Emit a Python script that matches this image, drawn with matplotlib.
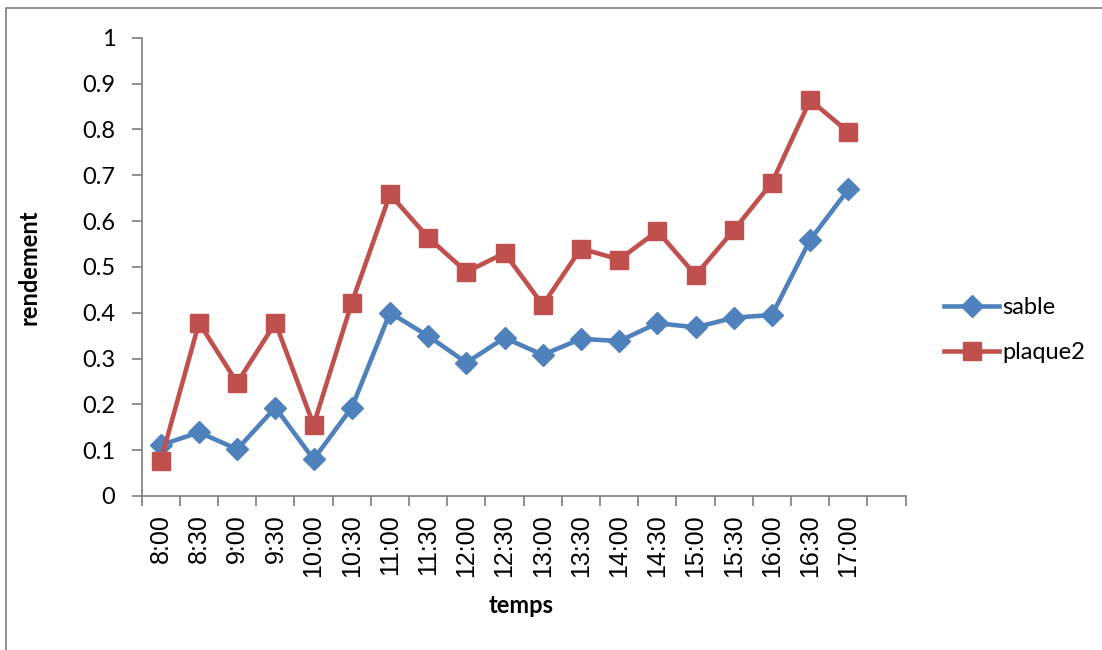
import matplotlib.pyplot as plt
from matplotlib.lines import Line2D

# data
temps = ["8:00", "8:30", "9:00", "9:30", "10:00", "10:30", "11:00", "11:30",
         "12:00", "12:30", "13:00", "13:30", "14:00", "14:30", "15:00",
         "15:30", "16:00", "16:30", "17:00"]
sable = [0.111, 0.139, 0.102, 0.193, 0.080, 0.193, 0.400, 0.349, 0.291,
         0.345, 0.308, 0.343, 0.338, 0.377, 0.368, 0.389, 0.395, 0.559, 0.669]
plaque2 = [0.077, 0.378, 0.247, 0.378, 0.155, 0.422, 0.658, 0.564, 0.489,
           0.530, 0.417, 0.540, 0.516, 0.578, 0.482, 0.580, 0.684, 0.864, 0.794]
n_slots = 20  # the category axis keeps one empty slot at the end

blue = "#4F81BD"
red = "#C0504D"
grey = "#868686"

fig = plt.figure(figsize=(11.02, 6.5), dpi=100)
ax = fig.add_axes([141.7 / 1102, 154 / 650, 764 / 1102, 458.3 / 650])

x = range(len(temps))
ax.plot(x, sable, color=blue, lw=3.3, marker="D", ms=11.5, label="sable")
ax.plot(x, plaque2, color=red, lw=3.3, marker="s", ms=13.5, label="plaque2")

ax.set_xlim(-0.5, n_slots - 0.5)
ax.set_ylim(0, 1)

# major ticks on slot boundaries, labels on slot centres
ax.set_xticks([i - 0.5 for i in range(n_slots + 1)])
ax.set_xticklabels([])
ax.set_xticks(list(x), minor=True)
ax.set_xticklabels(temps, minor=True, rotation=90, fontsize=18,
                   family="Liberation Sans")
ax.tick_params(axis="x", which="major", length=7, width=1.3, color=grey, direction="out")
ax.tick_params(axis="x", which="minor", length=0, pad=13)

ax.set_yticks([i / 10 for i in range(11)])
ax.set_yticklabels(["0", "0.1", "0.2", "0.3", "0.4", "0.5", "0.6", "0.7", "0.8", "0.9", "1"])
ax.tick_params(axis="y", length=7, width=1.3, color=grey, direction="out", pad=12,
               labelsize=17)
for lab in ax.get_yticklabels():
    lab.set_family("Lato")

for s in ["top", "right"]:
    ax.spines[s].set_visible(False)
for s in ["left", "bottom"]:
    ax.spines[s].set_color(grey)
    ax.spines[s].set_linewidth(1.3)

ax.set_ylabel("rendement", fontsize=17, fontweight="bold", family="Lato")
ax.yaxis.set_label_coords(-0.132, 0.5)
ax.set_xlabel("temps", fontsize=17, fontweight="bold", family="Lato")
ax.xaxis.label.set_va("center")
ax.xaxis.set_label_coords(0.4965, -0.238)

ax.legend(loc="center left", bbox_to_anchor=(935 / 1102, 320 / 650),
          bbox_transform=fig.transFigure, frameon=False,
          prop={"family": "Lato", "size": 17}, handlelength=2.3,
          handletextpad=0.15, labelspacing=1.0, borderaxespad=0)

# chart area border (only left and top edges are visible in the picture)
fig.add_artist(Line2D([6 / 1102, 6 / 1102, 1.0], [0.0, 1 - 8 / 650, 1 - 8 / 650],
                      transform=fig.transFigure, color=grey, lw=1.3))

fig.savefig("out.png", dpi=100)
